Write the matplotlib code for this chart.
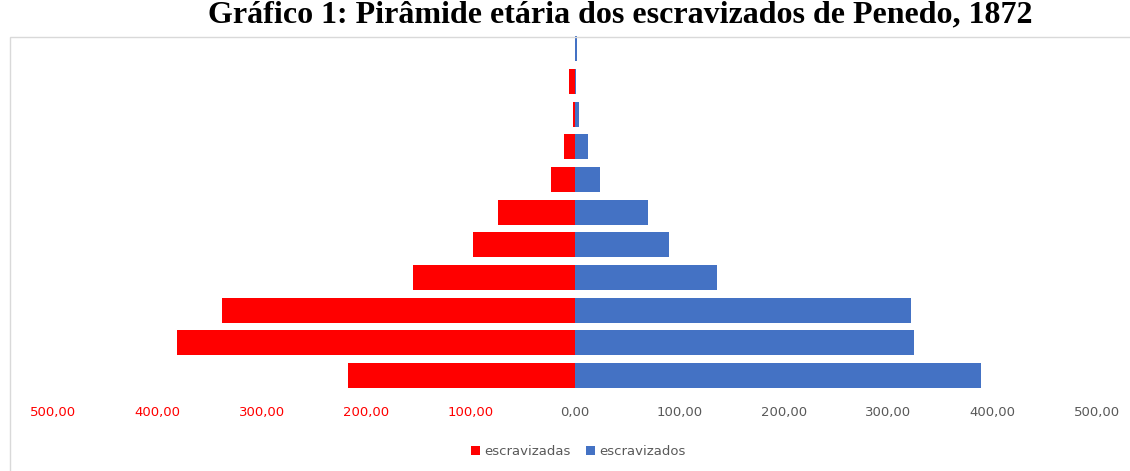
import matplotlib.pyplot as plt
from matplotlib.patches import Rectangle
import numpy as np

# age groups from bottom (youngest) to top (oldest)
faixas = ["0-10", "11-20", "21-30", "31-40", "41-50", "51-60", "61-70", "71-80", "81-90", "91-100", "100+"]
escravizadas = [217, 381, 338, 155, 98, 74, 23, 11, 2, 6, 0]
escravizados = [389, 325, 322, 136, 90, 70, 24, 12, 4, 1, 2]
ticks = [-500, -400, -300, -200, -100, 0, 100, 200, 300, 400, 500]

RED = "#FF0000"
BLUE = "#4472C4"
GRAY = "#595959"


def fmt(v):
    return "{:.2f}".format(abs(v)).replace(".", ",")


fig = plt.figure(figsize=(11.3, 4.71), dpi=100)
ax = fig.add_axes([0.0469, 0.168, 0.9239, 0.763])

# chart frame
fig.patches.append(Rectangle((10 / 1130, -0.05), 1.1, 1 - 37 / 471 + 0.05,
                             transform=fig.transFigure, fill=False,
                             edgecolor="#D9D9D9", linewidth=1.0, zorder=0))

y = np.arange(len(faixas))
ax.barh(y, [-v for v in escravizadas], height=0.77, color=RED, label="escravizadas")
ax.barh(y, escravizados, height=0.77, color=BLUE, label="escravizados")

ax.set_xlim(-500, 500)
ax.set_ylim(-0.5, len(faixas) - 0.5)
ax.set_xticks(ticks)
ax.set_xticklabels([fmt(t) for t in ticks], fontsize=9.5)
for t, lab in zip(ticks, ax.get_xticklabels()):
    lab.set_color(RED if t < 0 else GRAY)
ax.tick_params(axis="x", length=0, pad=10)
ax.set_yticks([])
for s in ax.spines.values():
    s.set_visible(False)

ax.legend(loc="upper center", bbox_to_anchor=(0.503, -0.115), ncol=2, frameon=False,
          fontsize=9.5, handlelength=0.7, handleheight=0.7, handletextpad=0.3,
          columnspacing=1.2, labelcolor=GRAY)

fig.text(0.549, 1 - 22 / 471, "Gráfico 1: Pirâmide etária dos escravizados de Penedo, 1872",
         ha="center", va="baseline", fontsize=23, fontweight="bold",
         family="Liberation Serif")

fig.savefig("out.png", dpi=100)
